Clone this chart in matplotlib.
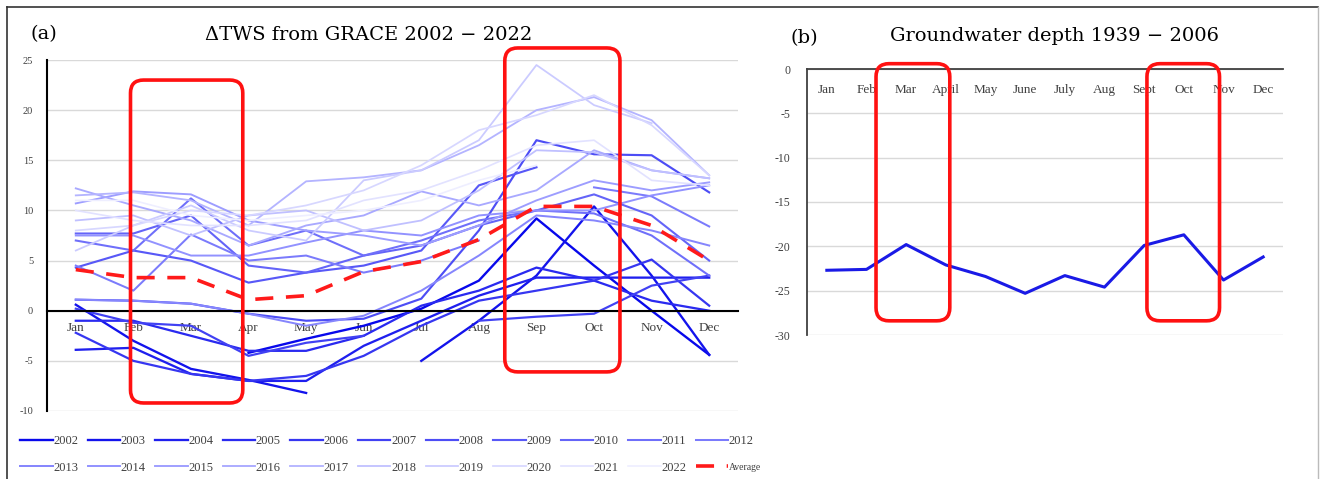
import matplotlib
matplotlib.use("Agg")
import matplotlib.pyplot as plt
import numpy as np
from matplotlib.patches import FancyBboxPatch
from matplotlib.lines import Line2D
from matplotlib.transforms import IdentityTransform

nan = np.nan

# ---- data -------------------------------------------------------------
months_a = ["Jan", "Feb", "Mar", "Apr", "May", "Jun", "Jul", "Aug", "Sep", "Oct", "Nov", "Dec"]
months_b = ["Jan", "Feb", "Mar", "April", "May", "June", "July", "Aug", "Sept", "Oct", "Nov", "Dec"]

years = list(range(2002, 2023))

tws = {
    2002: [nan, nan, nan, -4.2, -2.8, -1.5, 0.2, 3.0, 9.2, 4.5, 0.0, -4.4],
    2003: [0.6, -3.0, -5.8, -6.9, -8.2, nan, -5.0, -1.0, 3.5, 10.4, 3.5, -4.4],
    2004: [-3.9, -3.7, -6.3, -7.0, -7.0, -3.5, -1.0, 1.5, 3.3, 3.3, 3.3, 3.3],
    2005: [-1.0, -1.0, -2.5, -4.0, -4.0, -2.5, 0.5, 2.0, 4.3, 3.0, 1.0, 0.0],
    2006: [-2.2, -5.0, -6.3, -7.0, -6.5, -4.5, -1.5, 1.0, 2.0, 3.0, 5.1, 0.5],
    2007: [0.2, -1.2, -1.5, -4.5, -3.2, -2.5, nan, -1.0, -0.6, -0.3, 2.5, 3.5],
    2008: [1.1, 1.0, 0.7, -0.3, -1.0, -0.8, 1.2, 8.0, 17.0, 15.6, 15.5, 11.8],
    2009: [4.3, 6.0, 5.0, 2.8, 3.8, 4.5, 6.0, 12.5, 14.3, nan, nan, nan],
    2010: [7.7, 7.7, 9.5, 4.5, 3.8, 5.5, 6.5, 8.5, 10.0, 11.6, 9.5, 5.0],
    2011: [7.0, 6.0, 11.2, 6.5, 8.0, 5.5, 7.0, 9.0, 10.0, 9.7, 7.5, 3.5],
    2012: [4.5, 2.0, 7.6, 5.0, 5.5, 3.8, 5.0, 7.0, nan, 12.3, 11.4, 8.4],
    2013: [1.1, 1.0, 0.7, -0.3, -1.5, -0.5, 2.0, 5.5, 9.5, 9.0, 8.0, 6.5],
    2014: [7.5, 7.5, 5.5, 5.5, 6.8, 8.0, 7.5, 9.5, 10.0, 10.0, 11.5, 12.5],
    2015: [10.7, 11.9, 11.6, 9.0, 8.0, 7.5, 6.5, 8.5, 11.0, 13.0, 12.0, 12.8],
    2016: [12.2, 10.5, 9.0, 6.5, 8.5, 9.5, 11.9, 10.5, 12.0, 16.0, 14.0, 13.2],
    2017: [11.5, 11.8, 11.0, 8.5, 12.9, 13.3, 14.0, 16.5, 20.0, 21.3, 19.0, 13.5],
    2018: [9.0, 9.5, 7.5, 9.5, 10.0, 8.0, 9.0, 12.0, 16.0, 15.8, 14.0, 13.2],
    2019: [6.0, 8.5, 10.5, 8.0, 7.0, 13.0, 14.0, 17.0, 24.5, 20.5, 18.7, nan],
    2020: [8.0, 8.5, 10.0, 9.5, 10.5, 12.0, 14.5, 18.0, 19.5, 21.5, 18.5, 13.5],
    2021: [10.0, 9.0, 8.5, 8.5, 9.0, 11.0, 12.0, 14.0, 16.5, 17.0, 13.0, 12.5],
    2022: [11.0, 11.0, 9.5, 9.0, 9.5, 10.0, 11.0, 13.0, 14.5, nan, nan, nan],
}
tws_avg = [4.1, 3.3, 3.3, 1.1, 1.5, 3.9, 4.9, 7.1, 10.4, 10.4, 8.5, 5.0]

gw_depth = [-22.7, -22.6, -19.8, -22.1, -23.4, -25.3, -23.3, -24.6, -19.9, -18.7, -23.8, -21.2]

# highlighted seasons (month index span, value span)
hl_a = [((0.95, 2.9), (-9.2, 23.0)), ((7.45, 9.45), (-6.1, 26.2))]
hl_b = [((1.24, 3.1), (-28.4, 0.6)), ((8.07, 9.9), (-28.4, 0.6))]

# ---- style ------------------------------------------------------------
plt.rcParams["font.family"] = ["Liberation Serif", "DejaVu Serif"]
plt.rcParams["axes.unicode_minus"] = False

W, H = 1320, 479
fig = plt.figure(figsize=(W / 100, H / 100), dpi=100)

grid_c = "#D9D9D9"
title_font = ["DejaVu Serif"]
x = np.arange(12)

# ---- panel (a) --------------------------------------------------------
ax = fig.add_axes([47 / W, 1 - 411 / H, 691 / W, 351 / H])
for i, yr in enumerate(years):
    t = i / (len(years) - 1)
    base = np.array([0.03, 0.03, 0.92])
    col = base * (1 - 0.93 * t) + np.array([1.0, 1.0, 1.0]) * 0.93 * t
    col = np.clip(col + np.array([0.0, 0.0, 0.06 * t]), 0, 1)
    ax.plot(x, tws[yr], color=col, lw=1.7 - 0.5 * t, label=str(yr), zorder=3)
ax.plot(x, tws_avg, color="#FF1A1A", lw=2.6, ls=(0, (5, 3.5)), label="Average", zorder=4)

ax.set_xlim(-0.5, 11.5)
ax.set_ylim(-10, 25)
ax.set_yticks(np.arange(-10, 26, 5))
ax.grid(True, axis="y", color=grid_c, lw=1.0, zorder=0)
ax.set_xticks(x)
ax.set_xticklabels(months_a)
ax.tick_params(axis="x", length=0, pad=8, labelsize=9.5, labelcolor="#404040")
ax.tick_params(axis="y", length=0, pad=10, labelsize=7.5, labelcolor="#404040")
for s in ["top", "right"]:
    ax.spines[s].set_visible(False)
ax.spines["bottom"].set_position(("data", 0))
ax.spines["bottom"].set_color("black")
ax.spines["bottom"].set_linewidth(1.5)
ax.spines["bottom"].set_zorder(5)
ax.spines["left"].set_color("black")
ax.spines["left"].set_linewidth(1.5)

fig.text(30 / W, 1 - 34 / H, "(a)", fontsize=14, va="center", ha="left", family=title_font)
fig.text(369 / W, 1 - 35 / H, "\u0394TWS from GRACE 2002 \u2212 2022", fontsize=14,
         va="center", ha="center", family=title_font)

# legend: two rows of 11
handles, labels = ax.get_legend_handles_labels()
order = []
for c in range(11):
    order += [c, c + 11]
leg = fig.legend([handles[k] for k in order], [labels[k] for k in order],
                 ncol=11, loc="upper left", bbox_to_anchor=(14 / W, 1 - 429 / H),
                 frameon=False, fontsize=9, handlelength=2.6, handletextpad=0.05,
                 columnspacing=0.75, labelspacing=1.15, borderpad=0)
for txt in leg.get_texts():
    txt.set_color("#404040")
leg.get_texts()[-1].set_fontsize(7)

# ---- panel (b) --------------------------------------------------------
bx = fig.add_axes([807 / W, 1 - 335 / H, 476 / W, 266 / H])
bx.plot(x, gw_depth, color="#1A1AE6", lw=2.2, zorder=3)
bx.set_xlim(-0.5, 11.5)
bx.set_ylim(-30, 0)
bx.set_yticks(np.arange(-30, 1, 5))
bx.grid(True, axis="y", color=grid_c, lw=1.0, zorder=0)
bx.set_xticks(x)
bx.set_xticklabels(months_b)
bx.tick_params(axis="x", length=0, pad=11, labelsize=9.5, labelcolor="#404040")
bx.tick_params(axis="y", length=0, pad=12, labelsize=8.5, labelcolor="#404040")
bx.spines["right"].set_visible(False)
bx.spines["top"].set_visible(False)
bx.spines["bottom"].set_position(("data", 0))
bx.spines["bottom"].set_color("#404040")
bx.spines["bottom"].set_linewidth(1.3)
bx.spines["left"].set_color("#404040")
bx.spines["left"].set_linewidth(1.3)

fig.text(791 / W, 1 - 38 / H, "(b)", fontsize=14, va="center", ha="left", family=title_font)
fig.text(1055 / W, 1 - 36 / H, "Groundwater depth 1939 \u2212 2006", fontsize=14,
         va="center", ha="center", family=title_font)

# ---- highlight boxes --------------------------------------------------
def add_box(axis, xs, ys):
    (x0, y0) = axis.transData.transform((xs[0], ys[0]))
    (x1, y1) = axis.transData.transform((xs[1], ys[1]))
    box = FancyBboxPatch((x0, y0), x1 - x0, y1 - y0,
                         boxstyle="round,pad=0,rounding_size=13",
                         transform=IdentityTransform(), fill=False,
                         edgecolor="#FF1111", lw=2.6, zorder=10)
    fig.add_artist(box)

for xs, ys in hl_a:
    add_box(ax, xs, ys)
for xs, ys in hl_b:
    add_box(bx, xs, ys)

# ---- outer frame ------------------------------------------------------
frame_c = "#333333"
fig.add_artist(Line2D([7 / W, 7 / W], [0, 1 - 7 / H], transform=fig.transFigure, color=frame_c, lw=1.2))
fig.add_artist(Line2D([7 / W, 1318 / W], [1 - 7 / H, 1 - 7 / H], transform=fig.transFigure, color=frame_c, lw=1.2))
fig.add_artist(Line2D([1318 / W, 1318 / W], [0, 1 - 7 / H], transform=fig.transFigure, color="#BBBBBB", lw=1.0))

fig.savefig("out.png", dpi=100)
